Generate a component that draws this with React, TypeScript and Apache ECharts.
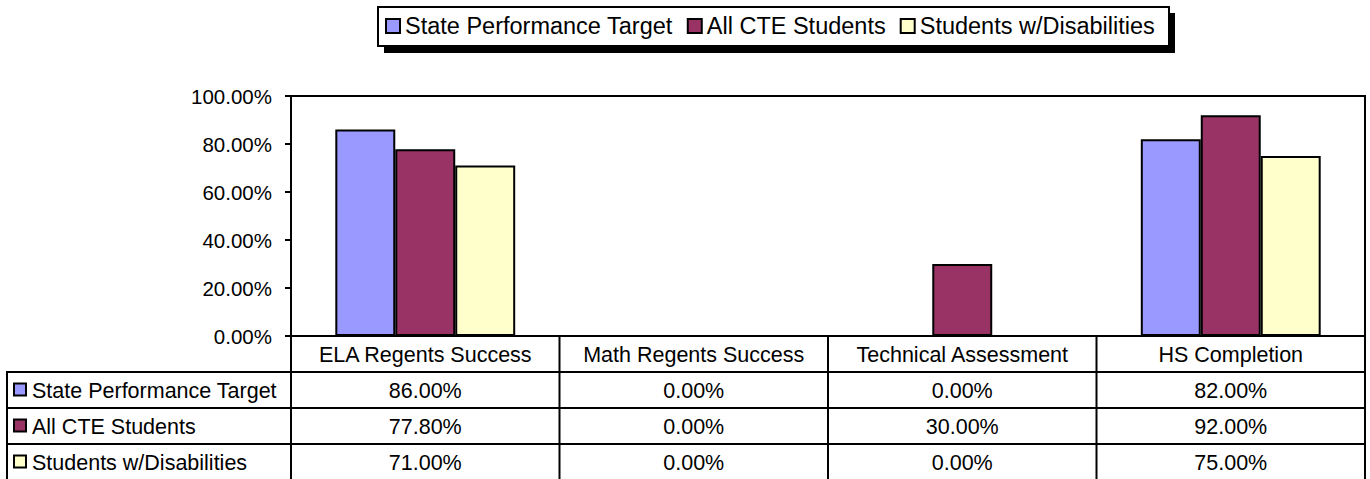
import React, { useEffect, useRef } from "react";
import * as echarts from "echarts";

const categories = ["ELA Regents Success", "Math Regents Success", "Technical Assessment", "HS Completion"];
const seriesNames = ["State Performance Target", "All CTE Students", "Students w/Disabilities"];
const stateTarget = [86, 0, 0, 82];
const allCte = [77.8, 0, 30, 92];
const disabilities = [71, 0, 0, 75];
const seriesColors = ["#9999FF", "#993366", "#FFFFCC"];
const yTicks = [0, 20, 40, 60, 80, 100];

const FONT = '"Liberation Sans", Arial, sans-serif';
const W = 1370;
const H = 479;
const GL = 291;
const GR = 1365;
const GT = 96;
const AXIS_Y = 336;
const ROW_H = 36;
const TABLE_LEFT = 7;
const FS = 21.5;
const FS_AXIS = 20.5;
const FS_LEGEND = 23.5;

const fmt = (v: number) => v.toFixed(2) + "%";

export default function App() {
  const ref = useRef<HTMLDivElement>(null);
  useEffect(() => {
    if (!ref.current) return;
    const chart = echarts.init(ref.current, undefined, { renderer: "svg" });
    const allData = [stateTarget, allCte, disabilities];
    const colW = (GR - GL) / categories.length;
    const graphics: any[] = [];
    // legend box shadow + box
    graphics.push({ type: "rect", z: 0, shape: { x: 384, y: 13, width: 791, height: 40 }, style: { fill: "#000" } });
    graphics.push({ type: "rect", z: 1, shape: { x: 378, y: 7, width: 791, height: 39 }, style: { fill: "#fff", stroke: "#000", lineWidth: 2 } });
    // table lines
    const bottom = H + 2;
    const rowYs = [AXIS_Y + ROW_H, AXIS_Y + 2 * ROW_H, AXIS_Y + 3 * ROW_H];
    rowYs.forEach((y) => {
      graphics.push({ type: "line", z: 5, shape: { x1: TABLE_LEFT, y1: y, x2: GR, y2: y }, style: { stroke: "#000", lineWidth: 2 } });
    });
    graphics.push({ type: "line", z: 5, shape: { x1: TABLE_LEFT, y1: AXIS_Y + ROW_H - 1, x2: TABLE_LEFT, y2: bottom }, style: { stroke: "#000", lineWidth: 2 } });
    for (let i = 0; i <= categories.length; i++) {
      const x = GL + i * colW;
      graphics.push({ type: "line", z: 5, shape: { x1: x, y1: AXIS_Y, x2: x, y2: bottom }, style: { stroke: "#000", lineWidth: 2 } });
    }
    // row labels & values
    seriesNames.forEach((name, r) => {
      const cy = AXIS_Y + ROW_H * (r + 1) + ROW_H / 2;
      graphics.push({ type: "rect", z: 6, shape: { x: 14, y: cy - 6.5, width: 12, height: 12 }, style: { fill: seriesColors[r], stroke: "#000", lineWidth: 2 } });
      graphics.push({
        type: "text", z: 6, x: 32, y: cy + 1,
        style: { text: name, fill: "#000", fontSize: FS, fontFamily: FONT, align: "left", verticalAlign: "middle", textAlign: "left", textVerticalAlign: "middle" },
      });
      allData[r].forEach((v, c) => {
        graphics.push({
          type: "text", z: 6, x: GL + colW * (c + 0.5), y: cy + 1,
          style: { text: fmt(v), fill: "#000", fontSize: FS, fontFamily: FONT, align: "center", verticalAlign: "middle", textAlign: "center", textVerticalAlign: "middle" },
        });
      });
    });

    chart.setOption({
      animation: false,
      backgroundColor: "#fff",
      textStyle: { fontFamily: FONT },
      legend: {
        left: 385,
        top: 14,
        z: 10,
        padding: 0,
        itemWidth: 14,
        itemHeight: 14,
        itemGap: 14,
        icon: "rect",
        itemStyle: { borderColor: "#000", borderWidth: 2 },
        textStyle: { fontSize: FS_LEGEND, color: "#000", fontFamily: FONT },
        data: seriesNames,
      },
      grid: {
        left: GL, right: W - GR, top: GT, bottom: H - AXIS_Y,
        show: true, borderColor: "#000", borderWidth: 2, backgroundColor: "transparent",
      },
      xAxis: {
        type: "category",
        data: categories,
        axisLine: { lineStyle: { color: "#000", width: 2 } },
        axisTick: { show: false },
        axisLabel: { margin: 19, verticalAlign: "middle", color: "#000", fontSize: FS, fontFamily: FONT, interval: 0 },
      },
      yAxis: {
        type: "value",
        min: yTicks[0],
        max: yTicks[yTicks.length - 1],
        interval: 20,
        axisLine: { show: true, lineStyle: { color: "#000", width: 2 } },
        axisTick: { show: true, inside: false, length: 6, lineStyle: { color: "#000", width: 2 } },
        splitLine: { show: false },
        axisLabel: { margin: 19, color: "#000", fontSize: FS_AXIS, fontFamily: FONT, formatter: (v: number) => fmt(v) },
      },
      series: allData.map((d, i) => ({
        name: seriesNames[i],
        type: "bar",
        data: d,
        barGap: "0%",
        barCategoryGap: "33%",
        itemStyle: { color: seriesColors[i], borderColor: "#000", borderWidth: 2 },
      })),
      graphic: graphics,
    });
    return () => chart.dispose();
  }, []);
  return <div ref={ref} style={{ position: "absolute", left: 0, top: 0, width: W, height: H }} />;
}
